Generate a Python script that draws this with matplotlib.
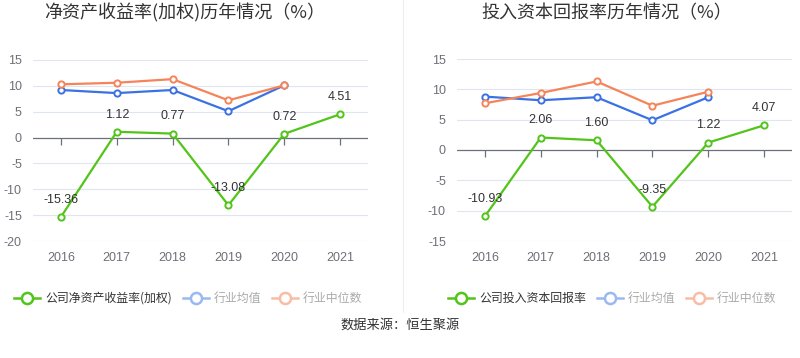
import matplotlib
matplotlib.use("Agg")
import matplotlib.pyplot as plt
from matplotlib.lines import Line2D

plt.rcParams['font.family'] = ['Noto Sans CJK SC', 'DejaVu Sans']

years = ["2016", "2017", "2018", "2019", "2020", "2021"]

# 净资产收益率(加权)
roe_company = [-15.36, 1.12, 0.77, -13.08, 0.72, 4.51]
roe_mean = [9.2, 8.6, 9.2, 5.1, 10.1]
roe_median = [10.3, 10.6, 11.3, 7.2, 10.1]

# 投入资本回报率
roic_company = [-10.93, 2.06, 1.60, -9.35, 1.22, 4.07]
roic_mean = [8.8, 8.2, 8.7, 4.9, 8.7]
roic_median = [7.7, 9.4, 11.3, 7.3, 9.6]

GREEN = '#52c41a'
BLUE = '#3b72e3'
ORANGE = '#f5845a'
W, H = 800, 358

fig = plt.figure(figsize=(8, 3.58), dpi=100)


def px_axes(x0, y0, x1, y1):
    return fig.add_axes([x0 / W, 1 - y1 / H, (x1 - x0) / W, (y1 - y0) / H])


def draw(ax, company, mean, median, ylim, yticks, title, tx):
    xs = list(range(len(years)))
    ax.set_xlim(-0.5, len(years) - 0.5)
    ax.set_ylim(*ylim)
    for s in ax.spines.values():
        s.set_visible(False)
    ax.set_yticks(yticks)
    ax.set_yticklabels([str(v) for v in yticks])
    ax.set_xticks(xs)
    ax.set_xticklabels(years)
    ax.tick_params(axis='both', length=0, labelsize=9, colors='#6e7079', pad=8)
    for v in yticks:
        if v != 0:
            ax.axhline(v, color='#e0e6f1', lw=0.8, zorder=0)
    ax.axhline(0, color='#6e7079', lw=0.9, zorder=1)
    # small ticks hanging below the zero line
    ax.plot(xs, [0] * len(xs), ls='none', marker=3, markersize=5,
            color='#6e7079', markeredgewidth=0.9, zorder=1)
    kw = dict(lw=1.6, marker='o', markersize=4.5, markerfacecolor='white',
              markeredgewidth=1.4, zorder=3)
    ax.plot(xs[:len(mean)], mean, color=BLUE, **kw)
    ax.plot(xs[:len(median)], median, color=ORANGE, **kw)
    ax.plot(xs, company, color=GREEN, **kw)
    for x, v in zip(xs, company):
        ax.annotate(f"{v:.2f}", (x, v), xytext=(0, 8), textcoords='offset points',
                    ha='center', va='bottom', fontsize=9, color='#333333',
                    family=['Liberation Sans', 'DejaVu Sans'], zorder=4)
    fig.text(tx / W, 1 - 13 / H, title, ha='center', va='center',
             fontsize=13, color='#333333')


ax1 = px_axes(33, 60, 368, 241)
draw(ax1, roe_company, roe_mean, roe_median, (-20, 15),
     [-20, -15, -10, -5, 0, 5, 10, 15], "净资产收益率(加权)历年情况（%）", 185)

ax2 = px_axes(457, 59, 792, 241)
draw(ax2, roic_company, roic_mean, roic_median, (-15, 15),
     [-15, -10, -5, 0, 5, 10, 15], "投入资本回报率历年情况（%）", 607)

for ax in (ax1, ax2):
    for lab in ax.get_xticklabels() + ax.get_yticklabels():
        lab.set_family(['Liberation Sans', 'DejaVu Sans'])

# separator
fig.add_artist(Line2D([403 / W, 403 / W], [1 - 0 / H, 1 - 312 / H],
                      color='#eeeeee', lw=0.8))


def legend_item(x0, label, color, tcolor):
    y = 1 - 298 / H
    fig.add_artist(Line2D([x0 / W, (x0 + 26) / W], [y, y], color=color, lw=1.8))
    fig.add_artist(Line2D([(x0 + 13) / W], [y], color=color, marker='o',
                          markersize=8, markerfacecolor='white',
                          markeredgewidth=1.8))
    fig.text((x0 + 31) / W, y, label, ha='left', va='center', fontsize=8.6,
             color=tcolor)


legend_item(14, "公司净资产收益率(加权)", GREEN, '#333333')
legend_item(183, "行业均值", '#9bb9f1', '#aaaaaa')
legend_item(272, "行业中位数", '#f9bca5', '#aaaaaa')
legend_item(448, "公司投入资本回报率", GREEN, '#333333')
legend_item(597, "行业均值", '#9bb9f1', '#aaaaaa')
legend_item(686, "行业中位数", '#f9bca5', '#aaaaaa')

fig.text(400 / W, 1 - 325 / H, "数据来源：恒生聚源", ha='center', va='center',
         fontsize=9.5, color='#333333')

fig.savefig("out.png", dpi=100)
